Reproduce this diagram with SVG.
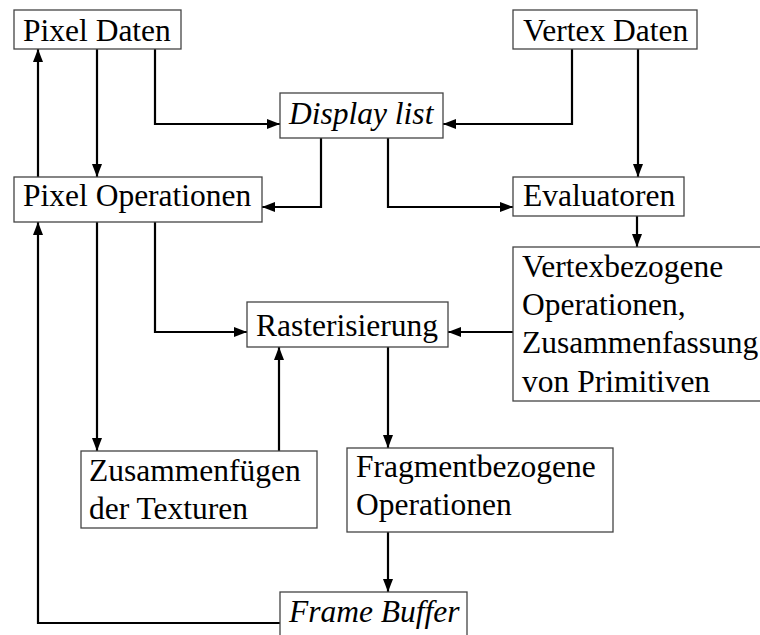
<svg xmlns="http://www.w3.org/2000/svg" width="760" height="635" viewBox="0 0 760 635">
<defs>
<marker id="ah" markerUnits="userSpaceOnUse" markerWidth="14" markerHeight="12" viewBox="0 0 14 12" refX="13" refY="6" orient="auto">
<path d="M0,1 L13,6 L0,11 Z" fill="#000"/>
</marker>
</defs>
<style>
.box{fill:#fff;stroke:#444;stroke-width:1.3}
.t{font-size:31.5px;fill:#000}
.i{font-style:italic}
.c path{fill:none;stroke:#000;stroke-width:2.2;marker-end:url(#ah)}
</style>
<rect width="760" height="635" fill="#fff"/>
<g class="c" id="connectors">
<path d="M38,177 V49"/>
<path d="M97,49 V177"/>
<path d="M155,49 V124 H280"/>
<path d="M572,49 V124 H443"/>
<path d="M638,49 V177"/>
<path d="M321,138 V207 H262"/>
<path d="M388,138 V207 H513"/>
<path d="M637,216 V247"/>
<path d="M513,332 H448"/>
<path d="M155,222 V332 H247"/>
<path d="M97,222 V451"/>
<path d="M279,451 V347"/>
<path d="M388,347 V448"/>
<path d="M388,532 V592"/>
<path d="M280,623 H38 V222"/>
</g>
<g font-family="Liberation Serif, Tinos, Times New Roman, DejaVu Serif, serif">
<g id="pixel-daten"><rect class="box" x="14" y="10" width="167" height="39"/><text class="t" x="23" y="41">Pixel Daten</text></g>
<g id="vertex-daten"><rect class="box" x="513" y="10" width="184" height="39"/><text class="t" x="523" y="41">Vertex Daten</text></g>
<g id="display-list"><rect class="box" x="280" y="93" width="163" height="45"/><text class="t i" x="289" y="124">Display list</text></g>
<g id="pixel-operationen"><rect class="box" x="14" y="177" width="248" height="45"/><text class="t" x="23" y="206">Pixel Operationen</text></g>
<g id="evaluatoren"><rect class="box" x="513" y="177" width="171" height="39"/><text class="t" x="523" y="206">Evaluatoren</text></g>
<g id="vertexbezogene"><rect class="box" x="513" y="247" width="260" height="154"/><text class="t" x="522" y="277">Vertexbezogene</text><text class="t" x="522" y="315">Operationen,</text><text class="t" x="522" y="353">Zusammenfassung</text><text class="t" x="522" y="392">von Primitiven</text></g>
<g id="rasterisierung"><rect class="box" x="247" y="302" width="201" height="45"/><text class="t" x="256" y="336">Rasterisierung</text></g>
<g id="zusammenfuegen"><rect class="box" x="81" y="451" width="236" height="77"/><text class="t" x="89" y="481">Zusammenfügen</text><text class="t" x="89" y="519">der Texturen</text></g>
<g id="fragmentbezogene"><rect class="box" x="347" y="448" width="266" height="84"/><text class="t" x="356" y="477">Fragmentbezogene</text><text class="t" x="356" y="515">Operationen</text></g>
<g id="frame-buffer"><rect class="box" x="280" y="592" width="187" height="60"/><text class="t i" x="289" y="622">Frame Buffer</text></g>
</g>
</svg>
